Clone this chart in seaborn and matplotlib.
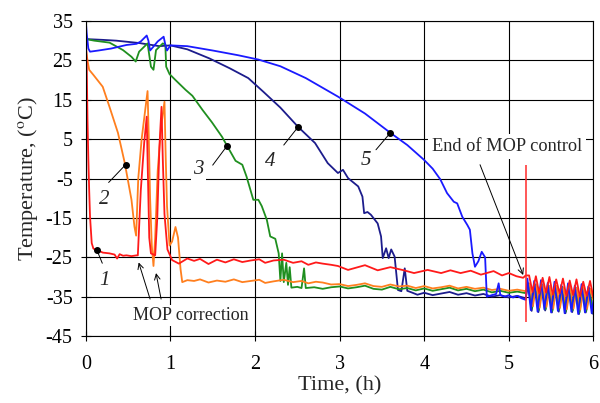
import numpy as np
import matplotlib
matplotlib.use('Agg')
import matplotlib.pyplot as plt
import seaborn as sns

sns.set_style('ticks')
plt.rcParams['font.family'] = ['Liberation Serif', 'DejaVu Serif']
plt.rcParams['mathtext.fontset'] = 'stix'
plt.rcParams['axes.unicode_minus'] = False

# curve 1 (red)
t1 = [0.0, 0.01, 0.02, 0.03, 0.04, 0.05, 0.07, 0.09, 0.13, 0.2, 0.28, 0.34, 0.37, 0.4, 0.44,
      0.48, 0.54, 0.6, 0.615, 0.65, 0.69, 0.72, 0.735, 0.75, 0.77, 0.82, 0.845, 0.87, 0.895,
      0.91, 0.93, 0.965, 1.02, 1.1, 1.2, 1.28, 1.35, 1.45, 1.55, 1.65, 1.75, 1.85, 1.95, 2.05,
      2.12, 2.22, 2.34, 2.45, 2.55, 2.63, 2.72, 2.8, 2.9, 2.98, 3.1, 3.2, 3.3, 3.45, 3.6,
      3.76, 3.88, 4.04, 4.2, 4.31, 4.43, 4.55, 4.67, 4.82, 4.92, 5.0, 5.09, 5.17, 5.2,
      5.24, 5.28, 5.32, 5.36, 5.40, 5.44, 5.48, 5.52, 5.56, 5.60, 5.64, 5.68, 5.72, 5.76,
      5.80, 5.84, 5.88, 5.92, 5.96, 6.0]
T1 = [30.0, 25.0, 10.0, 0.0, -8.0, -14.7, -21.4, -22.8, -23.1, -23.8, -24.0, -24.3, -25.3,
      -24.2, -24.6, -24.5, -24.7, -24.5, -24.5, -8.0, 4.0, 10.7, -5.0, -20.0, -24.0, -24.5,
      -15.0, 3.0, 13.2, 0.0, -14.0, -23.0, -25.7, -26.6, -25.3, -25.9, -25.4, -26.7, -25.6,
      -26.3, -25.5, -26.2, -25.8, -25.5, -26.4, -25.8, -25.6, -26.4, -26.0, -26.9, -26.3,
      -26.6, -26.9, -27.2, -28.2, -27.6, -27.0, -28.3, -27.5, -28.3, -29.0, -28.2, -29.0,
      -28.3, -29.0, -28.4, -29.4, -28.5, -29.6, -29.0, -29.8, -30.2, -29.6,
      -29.6, -33.8, -29.8, -34.2, -30.2, -34.0, -30.0, -34.5, -30.6, -34.2, -30.4, -34.8,
      -30.9, -34.6, -30.6, -35.0, -31.2, -34.8, -31.0, -35.2]

# curve 2 (orange)
t2 = [0.0, 0.02, 0.04, 0.09, 0.2, 0.28, 0.38, 0.46, 0.54, 0.575, 0.595, 0.62, 0.66, 0.70,
      0.73, 0.745, 0.76, 0.78, 0.80, 0.82, 0.85, 0.89, 0.93, 0.945, 0.96, 0.99, 1.02, 1.06,
      1.09, 1.12, 1.14, 1.2, 1.28, 1.35, 1.45, 1.55, 1.65, 1.75, 1.85, 1.95, 2.05, 2.12,
      2.22, 2.34, 2.45, 2.55, 2.63, 2.72, 2.8, 2.9, 3.0, 3.1, 3.2, 3.3, 3.4, 3.5, 3.6, 3.7,
      3.8, 3.9, 4.0, 4.1, 4.2, 4.3, 4.4, 4.5, 4.6, 4.7, 4.8, 4.9, 5.0, 5.1, 5.2,
      5.245, 5.285, 5.325, 5.365, 5.405, 5.445, 5.485, 5.525, 5.565, 5.605, 5.645, 5.685,
      5.725, 5.765, 5.805, 5.845, 5.885, 5.925, 5.965, 6.0]
T2 = [28.0, 25.0, 22.6, 21.3, 18.3, 13.2, 6.6, -1.0, -10.4, -17.2, -19.5, -5.0, 5.0, 12.0,
      17.2, 5.0, -10.0, -22.0, -27.2, -20.0, -3.0, 8.0, 14.5, 0.0, -12.0, -22.0, -21.0,
      -17.3, -20.0, -28.0, -31.3, -30.8, -31.0, -30.6, -31.4, -30.9, -31.2, -30.6, -31.3,
      -31.0, -30.7, -31.5, -31.1, -30.7, -31.3, -31.0, -31.6, -31.2, -31.4, -31.9, -31.8,
      -32.3, -32.0, -31.6, -32.3, -32.5, -31.9, -32.4, -32.2, -32.8, -32.3, -32.9, -32.6,
      -32.2, -32.9, -32.5, -33.0, -32.7, -33.3, -33.0, -33.5, -33.2, -33.6,
      -31.6, -37.4, -31.8, -37.8, -32.0, -37.6, -32.3, -38.0, -32.2, -37.8, -32.6, -38.2,
      -32.4, -38.0, -32.8, -38.3, -32.6, -38.1, -33.0, -36.0]

# curve 3 (green)
t3 = [0.0, 0.1, 0.28, 0.44, 0.54, 0.59, 0.63, 0.73, 0.77, 0.8, 0.83, 0.91, 0.94, 0.95, 0.99,
      1.06, 1.18, 1.26, 1.38, 1.49, 1.61, 1.67, 1.77, 1.85, 1.9, 1.98, 2.04, 2.08, 2.14,
      2.18, 2.24, 2.28, 2.30, 2.32, 2.34, 2.37, 2.39, 2.41, 2.43, 2.5, 2.55, 2.58, 2.60,
      2.7, 2.8, 2.9, 3.0, 3.1, 3.2, 3.3, 3.4, 3.5, 3.6, 3.7, 3.8, 3.9, 4.0, 4.1, 4.2, 4.3,
      4.4, 4.5, 4.6, 4.7, 4.8, 4.9, 5.0, 5.1, 5.2,
      5.235, 5.275, 5.315, 5.355, 5.395, 5.435, 5.475, 5.515, 5.555, 5.595, 5.635, 5.675,
      5.715, 5.755, 5.795, 5.835, 5.875, 5.915, 5.955, 5.995]
T3 = [30.4, 30.0, 29.5, 27.6, 25.9, 24.7, 27.2, 29.3, 23.4, 22.6, 27.6, 29.3, 29.0, 23.4,
      21.5, 20.0, 17.5, 16.0, 12.4, 9.3, 5.6, 3.3, -0.5, -1.5, -4.5, -10.4, -10.4, -12.0,
      -15.5, -19.7, -20.3, -24.0, -31.0, -24.0, -31.3, -26.4, -32.0, -27.5, -32.7, -32.5,
      -32.8, -27.8, -32.8, -32.6, -33.0, -32.6, -32.4, -32.9, -32.6, -32.2, -33.0, -33.2,
      -32.5, -33.1, -32.8, -33.4, -32.9, -33.5, -33.1, -32.7, -33.4, -33.0, -33.6, -33.2,
      -33.9, -33.5, -34.0, -33.7, -34.1,
      -32.0, -38.0, -32.2, -38.4, -32.5, -38.2, -32.4, -38.6, -32.8, -38.3, -32.7, -38.8,
      -33.0, -38.5, -32.9, -39.0, -33.2, -38.7, -33.1, -39.1]

# curve 4 (navy)
t4 = [0.0, 0.2, 0.36, 0.63, 0.87, 1.0, 1.2, 1.46, 1.7, 1.92, 2.1, 2.3, 2.51, 2.71, 2.86,
      2.98, 3.04, 3.1, 3.22, 3.27, 3.29, 3.33, 3.37, 3.45, 3.49, 3.51, 3.55, 3.58, 3.61,
      3.65, 3.69, 3.73, 3.77, 3.8, 3.85, 3.92, 4.0, 4.1, 4.2, 4.3, 4.4, 4.5, 4.6, 4.7, 4.8,
      4.9, 5.0, 5.1, 5.2,
      5.23, 5.27, 5.31, 5.35, 5.39, 5.43, 5.47, 5.51, 5.55, 5.59, 5.63, 5.67, 5.71, 5.75,
      5.79, 5.83, 5.87, 5.91, 5.95, 5.99]
T4 = [30.4, 30.2, 30.0, 29.4, 28.6, 28.8, 27.8, 25.5, 23.0, 20.5, 17.0, 13.0, 8.1, 4.0,
      -1.1, -3.6, -2.8, -4.9, -7.0, -9.6, -13.8, -13.5, -14.2, -16.4, -19.7, -25.2, -22.7,
      -25.2, -23.0, -24.8, -33.3, -33.6, -27.8, -33.5, -33.9, -34.5, -34.0, -34.6, -34.2,
      -33.8, -34.5, -34.1, -34.7, -34.3, -35.0, -34.6, -35.2, -34.8, -35.4,
      -31.6, -38.6, -31.9, -38.9, -31.8, -38.5, -32.2, -39.0, -32.0, -38.8, -32.5, -39.2,
      -32.2, -38.9, -32.6, -39.4, -32.4, -39.0, -32.8, -39.3]

# curve 5 (blue)
t5 = [0.0, 0.01, 0.03, 0.05, 0.15, 0.3, 0.48, 0.6, 0.65, 0.72, 0.74, 0.76, 0.8, 0.85, 0.92,
      0.94, 0.96, 1.0, 1.2, 1.5, 1.8, 2.04, 2.3, 2.6, 2.98, 3.3, 3.6, 3.8, 4.0, 4.1, 4.19,
      4.27, 4.35, 4.39, 4.45, 4.51, 4.54, 4.57, 4.6, 4.64, 4.68, 4.72, 4.74, 4.8, 4.85,
      4.88, 4.9, 4.95, 5.0, 5.05, 5.1, 5.15, 5.2,
      5.22, 5.26, 5.30, 5.34, 5.38, 5.42, 5.46, 5.50, 5.54, 5.58, 5.62, 5.66, 5.70, 5.74,
      5.78, 5.82, 5.86, 5.90, 5.94, 5.98, 6.0]
T5 = [35.0, 32.0, 28.0, 27.2, 27.5, 28.0, 28.9, 29.2, 29.8, 31.3, 30.0, 27.5, 28.5, 29.8,
      31.0, 29.0, 27.5, 28.8, 28.6, 27.5, 26.3, 25.2, 23.5, 20.5, 15.8, 11.5, 6.6, 3.5,
      -0.3, -2.5, -5.2, -8.7, -10.9, -11.3, -14.7, -16.8, -18.0, -24.0, -27.4, -26.0,
      -23.6, -25.0, -35.0, -34.6, -34.3, -31.6, -34.6, -35.0, -34.6, -35.2, -34.8, -35.4,
      -35.8,
      -30.4, -38.4, -31.0, -38.8, -30.8, -38.2, -31.5, -39.0, -31.2, -38.6, -32.0, -39.2,
      -31.6, -38.8, -32.2, -39.4, -31.8, -39.0, -32.4, -39.2, -36.0]

colors = {'1': '#ff1a1a', '2': '#ff7f1e', '3': '#1f8f1f', '4': '#1c1c8c', '5': '#1a1aff'}

# labelled points on the curves: (t, T) of the dot, leader end, label position
markers = {'1': ((0.13, -23.1), (0.195, -26.5), (0.22, -30.8)),
           '2': ((0.47, -1.5), (0.27, -6.0), (0.22, -10.4)),
           '3': ((1.67, 3.3), (1.5, -1.6), (1.33, -2.6)),
           '4': ((2.51, 8.1), (2.34, 3.5), (2.18, -0.7)),
           '5': ((3.6, 6.6), (3.43, 2.3), (3.31, -0.3))}

mop_end_t = 5.2
mop_end_span = (-1.5, -41.5)

fig = plt.figure(figsize=(6, 4.03), dpi=100)
ax = fig.add_axes([0.143, 0.166, 0.846, 0.782])

for name, (tt, TT) in [('4', (t4, T4)), ('3', (t3, T3)), ('2', (t2, T2)),
                       ('5', (t5, T5)), ('1', (t1, T1))]:
    sns.lineplot(x=tt, y=TT, sort=False, estimator=None, color=colors[name],
                 lw=1.3, ax=ax)

ax.vlines(mop_end_t, *mop_end_span, color='#ff2a2a', lw=1.1)

for name, (dot, lead, lab) in markers.items():
    ax.plot(*dot, 'o', color='black', ms=4, zorder=5)
    ax.plot([dot[0], lead[0]], [dot[1], lead[1]], color='black', lw=0.7, zorder=5)
    ax.text(lab[0], lab[1], name, fontsize=15, style='italic', ha='center', va='center',
            bbox=dict(facecolor='white', edgecolor='none', pad=1.5), zorder=4)

arr = dict(arrowstyle='->', lw=0.7, color='black', shrinkA=0, shrinkB=0)
ax.text(1.24, -39.7, 'MOP correction', fontsize=13, ha='center', va='center',
        bbox=dict(facecolor='white', edgecolor='none', pad=1.5), zorder=4)
ax.annotate('', xy=(0.625, -26.3), xytext=(0.76, -35.6), arrowprops=arr)
ax.annotate('', xy=(0.83, -29.0), xytext=(0.89, -35.6), arrowprops=arr)

ax.text(4.98, 3.1, 'End of MOP control', fontsize=13.2, ha='center', va='center',
        bbox=dict(facecolor='white', edgecolor='none', pad=3), zorder=4)
ax.annotate('', xy=(5.17, -29.5), xytext=(4.66, -1.5), arrowprops=arr)

ax.set_xlim(0, 6)
ax.set_ylim(-45, 35)
ax.set_xticks(range(0, 7))
ax.set_yticks(range(-45, 36, 10))
ax.grid(True, color='black', lw=0.8)
ax.set_axisbelow(True)
for s in ax.spines.values():
    s.set_color('black')
    s.set_linewidth(0.8)
ax.tick_params(direction='inout', length=7, width=0.8, labelsize=14.5, colors='black')
ax.tick_params(axis='x', pad=10)
ax.tick_params(axis='y', pad=6)
ax.set_xlabel('Time, (h)', fontsize=16, labelpad=2)
ax.set_ylabel(r'Temperature, ($^{\mathrm{o}}$C)', fontsize=16, labelpad=4)

fig.savefig('out.png', dpi=100)
